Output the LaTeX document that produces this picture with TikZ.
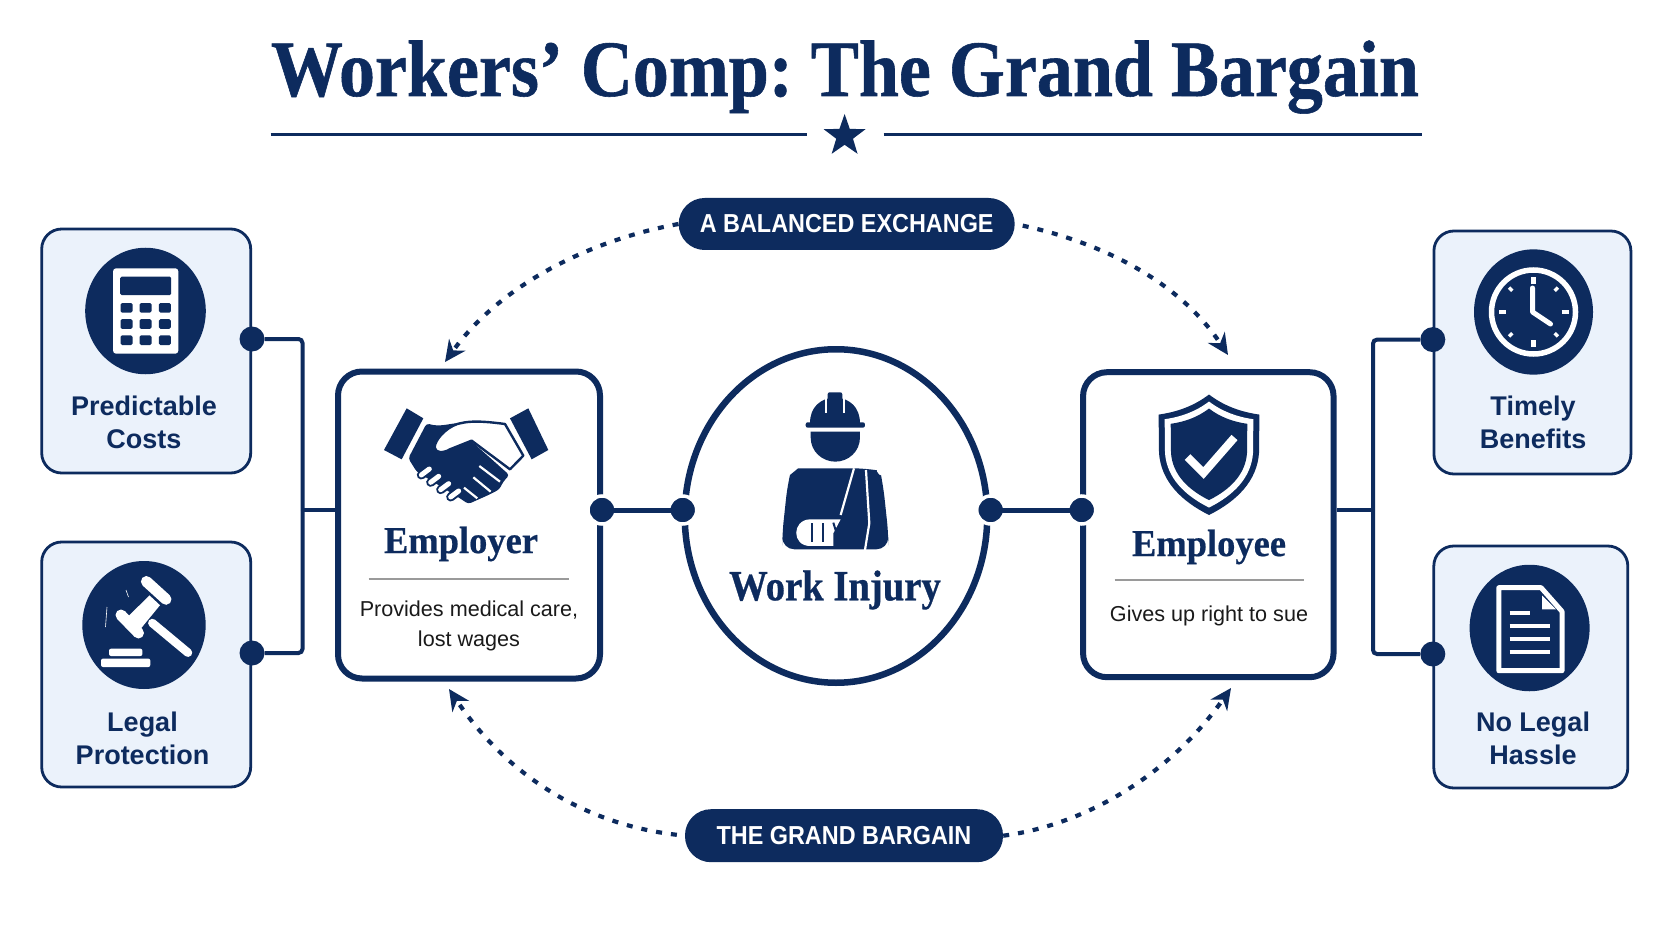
\documentclass[tikz,border=0pt]{standalone}
\usepackage{fontspec}
\usepackage{xcolor}
\setmainfont{Liberation Serif}
\newfontfamily\titlefont{Liberation Serif}[FakeStretch=0.9,BoldFeatures={FakeBold=0.7}]
\newfontfamily\headfont{Liberation Serif}[FakeStretch=0.96,BoldFeatures={FakeBold=0.5}]
\newfontfamily\labelfont{Liberation Sans}
\newfontfamily\pillfont{Liberation Sans}[FakeStretch=0.9]
\usepackage{tikz}
\usetikzlibrary{positioning,calc,arrows.meta,shapes.geometric}

\definecolor{navy}{HTML}{0D2B5E}
\definecolor{cardblue}{HTML}{EBF2FB}
\definecolor{rulegray}{HTML}{9A9A9A}
\definecolor{bodyink}{HTML}{1A1A1A}

\tikzset{
	card/.style={draw=navy,line width=2.8pt,fill=cardblue,rounded corners=20pt,inner sep=0pt},
	party/.style={draw=navy,line width=6pt,fill=white,rounded corners=24pt,inner sep=0pt},
	badge/.style={ellipse,fill=navy,inner sep=0pt},
	pill/.style={fill=navy,rounded corners=26pt,inner sep=0pt,text=white,font=\pillfont\bfseries\fontsize{26}{30}\selectfont},
	cardtext/.style={align=center,text=navy,font=\labelfont\bfseries\fontsize{27}{33}\selectfont},
	headtext/.style={text=navy,font=\headfont\bfseries\fontsize{38}{44}\selectfont},
	bodytext/.style={align=center,text=bodyink,font=\labelfont\fontsize{21.6}{30.5}\selectfont},
	wire/.style={draw=navy,line width=4pt,rounded corners=4pt},
	dot/.style={circle,fill=navy,minimum size=25pt,inner sep=0pt},
	halodot/.style={dot,draw=white,line width=3.5pt,minimum size=28pt},
	flow/.style={draw=navy,line width=4.2pt,dash pattern=on 6pt off 9pt,-{Stealth[length=21pt,width=20pt]}},
}

\begin{document}
\frenchspacing
\begin{tikzpicture}[x=1pt,y=-1pt]
	\useasboundingbox (0,0) rectangle (1672,941);
	\fill[white] (0,0) rectangle (1672,941);
	
	% title
	\node[anchor=base,text=navy,font=\titlefont\bfseries\fontsize{80}{90}\selectfont] (title) at (845,96) {Workers’ Comp: The Grand Bargain};
	\node[star,star points=5,star point ratio=2.5,fill=navy,minimum size=44pt,inner sep=0pt] (titlestar) at (844.6,136) {};
	\draw[navy,line width=3pt] (270.7,134.7) -- (807,134.7);
	\draw[navy,line width=3pt] (883.6,134.7) -- (1422,134.7);
	
	% side cards
	\node[card,minimum width=209pt,minimum height=244pt] (cardCosts) at (146.2,351) {};
	\node[card,minimum width=209pt,minimum height=245pt] (cardLegal) at (146.2,664.5) {};
	\node[card,minimum width=197pt,minimum height=243pt] (cardTimely) at (1532.4,352.5) {};
	\node[card,minimum width=194pt,minimum height=242pt] (cardHassle) at (1530.8,667) {};
	
	\node[cardtext] (textCosts) at (144,422.5) {Predictable\\Costs};
	\node[cardtext] (textLegal) at (142.5,738.5) {Legal\\Protection};
	\node[cardtext] (textTimely) at (1533,422.5) {Timely\\Benefits};
	\node[cardtext] (textHassle) at (1533,738.5) {No Legal\\Hassle};
	
	\node[badge,minimum width=120.6pt,minimum height=126.5pt] (iconCosts) at (145.5,311) {};
	\node[badge,minimum width=123.4pt,minimum height=128pt] (iconLegal) at (144,625) {};
	\node[badge,minimum width=119pt,minimum height=125.3pt] (iconTimely) at (1533.5,312) {};
	\node[badge,minimum width=120pt,minimum height=126.5pt] (iconHassle) at (1529.6,628) {};
	
	% middle boxes
	\node[party,minimum width=262pt,minimum height=307pt] (employer) at (469,525) {};
	\node[party,minimum width=250.5pt,minimum height=305pt] (employee) at (1208.3,524.7) {};
	\node[ellipse,draw=navy,line width=6.5pt,fill=white,minimum width=302.5pt,minimum height=333.5pt,inner sep=0pt] (injury) at (836,516) {};
	
	\node[headtext] (labelEmployer) at (461,544) {Employer};
	\draw[rulegray,line width=2.6pt] (368.5,579) -- (569,579);
	\node[bodytext] (textEmployer) at (469,626) {Provides medical care,\\lost wages};
	
	\node[headtext] (labelEmployee) at (1209,547) {Employee};
	\draw[rulegray,line width=2.6pt] (1114.6,580) -- (1304,580);
	\node[bodytext] (textEmployee) at (1209,616) {Gives up right to sue};
	
	\node[text=navy,font=\titlefont\bfseries\fontsize{43}{48}\selectfont] (labelInjury) at (835,590) {Work Injury};
	
	% pills
	\node[pill,minimum width=336pt,minimum height=52pt] (pillTop) at (846.7,224) {A BALANCED EXCHANGE};
	\node[pill,minimum width=318pt,minimum height=53pt] (pillBottom) at (844,835.7) {THE GRAND BARGAIN};
	
	% connectors
	\coordinate (junctionL) at (302.5,510);
	\coordinate (junctionR) at (1373,510);
	\node[dot] (dotCosts) at (252,339) {};
	\node[dot] (dotLegal) at (252,653) {};
	\node[dot] (dotTimely) at (1432.8,339.6) {};
	\node[dot] (dotHassle) at (1432.8,654) {};
	\node[halodot] (dotEmployer) at (602,510) {};
	\node[halodot] (dotInjuryL) at (682.7,510) {};
	\node[halodot] (dotInjuryR) at (990.7,510) {};
	\node[halodot] (dotEmployee) at (1081.7,510) {};
	
	\draw[wire] (dotCosts) -| (junctionL);
	\draw[wire] (dotLegal) -| (junctionL);
	\draw[wire] (junctionL) -- (junctionL -| employer.west);
	\draw[wire] (dotTimely) -| (junctionR);
	\draw[wire] (dotHassle) -| (junctionR);
	\draw[wire] (junctionR) -- (junctionR -| employee.east);
	\draw[wire,line width=5pt] (dotEmployer.center) -- (dotInjuryL.center);
	\draw[wire,line width=5pt] (dotInjuryR.center) -- (dotEmployee.center);
	
	\coordinate (tipTL) at (445,362);
	\coordinate (tipTR) at (1228,355);
	\coordinate (tipBL) at (449,689);
	\coordinate (tipBR) at (1231,688);
	\draw[flow] (pillTop.west) .. controls (590,240) and (500,285) .. (tipTL);
	\draw[flow,shorten <=8pt] (pillTop.east) .. controls (1090,240) and (1175,275) .. (tipTR);
	\draw[flow,shorten <=8pt] (pillBottom.west) .. controls (590,825) and (510,780) .. (tipBL);
	\draw[flow] (pillBottom.east) .. controls (1085,825) and (1170,775) .. (tipBR);
	
	% calculator
	\begin{scope}[shift={(iconCosts)}]
		\fill[white,rounded corners=3pt] (-32.4,-42.7) rectangle (32.8,42.7);
		\fill[navy,rounded corners=1.5pt] (-25.3,-34.4) rectangle (25.7,-15.8);
		\foreach \x in {-19,0,19.4}
			\foreach \y in {-3.2,13,29.2}
				\fill[navy,rounded corners=1.5pt] (\x-6,\y-4.8) rectangle (\x+6,\y+4.8);
	\end{scope}
	
	% gavel
	\begin{scope}[shift={(iconLegal)}]
		\draw[white,line width=11pt,line cap=round] (2.4,-43.5) -- (22,-25.7);
		\draw[white,line width=11pt,line cap=round] (-23,-10) -- (-5.5,8);
		\fill[white] (5.5,-29.6) -- (16,-19.8) -- (-3.5,4) -- (-15.4,-9) -- cycle;
		\draw[white,line width=8.5pt,line cap=round] (8.3,-2) -- (44,27.7);
		\fill[white,rounded corners=2pt] (-35,23.7) rectangle (-1.6,31);
		\fill[white,rounded corners=2pt] (-43,33.6) rectangle (6.3,42);
		\draw[white,line width=0.6pt] (-18,-35) -- (-15.5,-28);
		\draw[white,line width=0.6pt] (-37,-18) -- (-38.5,2);
	\end{scope}
	
	% clock
	\begin{scope}[shift={(iconTimely)}]
		\draw[white,line width=5.5pt] (0,0) circle (42);
		\foreach \a in {0,90,180,270}
			\draw[white,line width=4.2pt] (\a:28) -- (\a:35);
		\foreach \a in {45,135,225,315}
			\draw[white,line width=3.5pt] (\a:30) -- (\a:34.5);
		\draw[white,line width=5pt,line cap=round,line join=round] (-1,-24) -- (-1,0) -- (17,12);
	\end{scope}
	
	% document
	\begin{scope}[shift={(iconHassle)}]
		\draw[white,line width=5pt,line join=round] (-30.8,-40.3) -- (11.5,-40.3) -- (32.4,-16.6) -- (32.4,42.7) -- (-30.8,42.7) -- cycle;
		\fill[white] (12.6,-32.4) -- (12.6,-18.6) -- (26.5,-18.6) -- cycle;
		\draw[white,line width=4pt] (-20,-14.6) -- (0.8,-14.6);
		\foreach \y in {-1.6,11,24}
			\draw[white,line width=4pt] (-20,\y) -- (20.6,\y);
	\end{scope}
	
	% handshake
	\begin{scope}[shift={(360,390)},x=0.3333pt,y=-0.3333pt]
		\fill[navy] (72,180) -- (140,55) -- (190,85) -- (125,208) -- cycle;
		\fill[navy] (450,85) -- (505,55) -- (565,180) -- (515,208) -- cycle;
		\fill[navy,rounded corners=3pt] (145,205) -- (200,100) .. controls (240,112) and (270,100) .. (300,100) -- (330,150) -- (448,255) -- (430,275) -- (418,298) -- (392,312) -- (325,342) -- (300,325) -- (170,245) -- cycle;
		\draw[navy,fill=white,line width=2.4pt,line join=round] (292,102) .. controls (320,95) and (345,90) .. (435,102) -- (490,197) -- (450,238) -- (335,152) -- (270,178) .. controls (250,190) and (225,190) .. (224,172) .. controls (225,150) and (255,115) .. (292,102) -- cycle;
		\foreach \a/\b/\c/\d in {358/228/420/275,340/262/392/305,312/293/352/325}
			\draw[white,line width=2.2pt] (\a,\b) -- (\c,\d);
		\foreach \x/\y in {196/246,224/268,254/290,284/312} {
			\draw[navy,line width=9pt,line cap=round] (\x-12,\y+9) -- (\x+12,\y-9);
			\draw[white,line width=5pt,line cap=round] (\x-12,\y+9) -- (\x+12,\y-9);
		}
	\end{scope}
	
	% shield
	\begin{scope}[shift={(1209,453)}]
		\def\shieldpath{(0,-58.5) .. controls (15,-47) and (32,-41) .. (50.4,-38.4) -- (50,0) .. controls (48,28) and (28,48) .. (0,62) .. controls (-28,48) and (-48,28) .. (-50,0) -- (-50.4,-38.4) .. controls (-32,-41) and (-15,-47) .. (0,-58.5) -- cycle}
		\fill[navy] \shieldpath;
		\fill[white,scale=0.88] \shieldpath;
		\fill[navy,scale=0.76] \shieldpath;
		\draw[white,line width=8pt,line join=miter] (-21.5,4) -- (-5.5,20) -- (25.5,-15.5);
	\end{scope}
	
	% worker
	\begin{scope}[shift={(620,320)},x=0.3333pt,y=-0.3333pt]
		\fill[navy] (570,310) .. controls (570,262) and (600,235) .. (645,232) .. controls (690,235) and (720,262) .. (720,310) -- cycle;
		\fill[navy,rounded corners=2pt] (623,217) rectangle (667,278);
		\draw[white,line width=1.7pt] (618,232) -- (618,280);
		\draw[white,line width=1.7pt] (672,232) -- (672,280);
		\fill[navy,rounded corners=2pt] (557,307) rectangle (735,323);
		\fill[navy] (572,335) -- (720,335) -- (720,352) .. controls (720,395) and (685,425) .. (646,425) .. controls (607,425) and (572,395) .. (572,352) -- cycle;
		\fill[navy,rounded corners=12pt] (487,688) -- (487,640) -- (502,500) .. controls (510,465) and (535,445) .. (570,445) -- (735,445) .. controls (765,450) and (785,475) .. (790,500) -- (805,640) -- (805,688) -- cycle;
		\draw[white,line width=2.2pt] (702,445) -- (662,585);
		\draw[white,line width=2.2pt] (738,450) -- (748,610) -- (735,690);
		\fill[white] (662,598) -- (570,598) .. controls (515,600) and (515,678) .. (570,678) -- (640,678) -- (640,640) -- cycle;
		\fill[navy] (712,450) -- (735,605) -- (737,640) -- (722,686) -- (650,686) -- (645,640) -- (675,590) -- cycle;
		\draw[navy,line width=2pt] (577,610) -- (577,665);
		\draw[navy,line width=2pt] (610,610) -- (610,665);
		\draw[navy,line width=2pt] (640,608) -- (650,640);
	\end{scope}
\end{tikzpicture}
\end{document}
